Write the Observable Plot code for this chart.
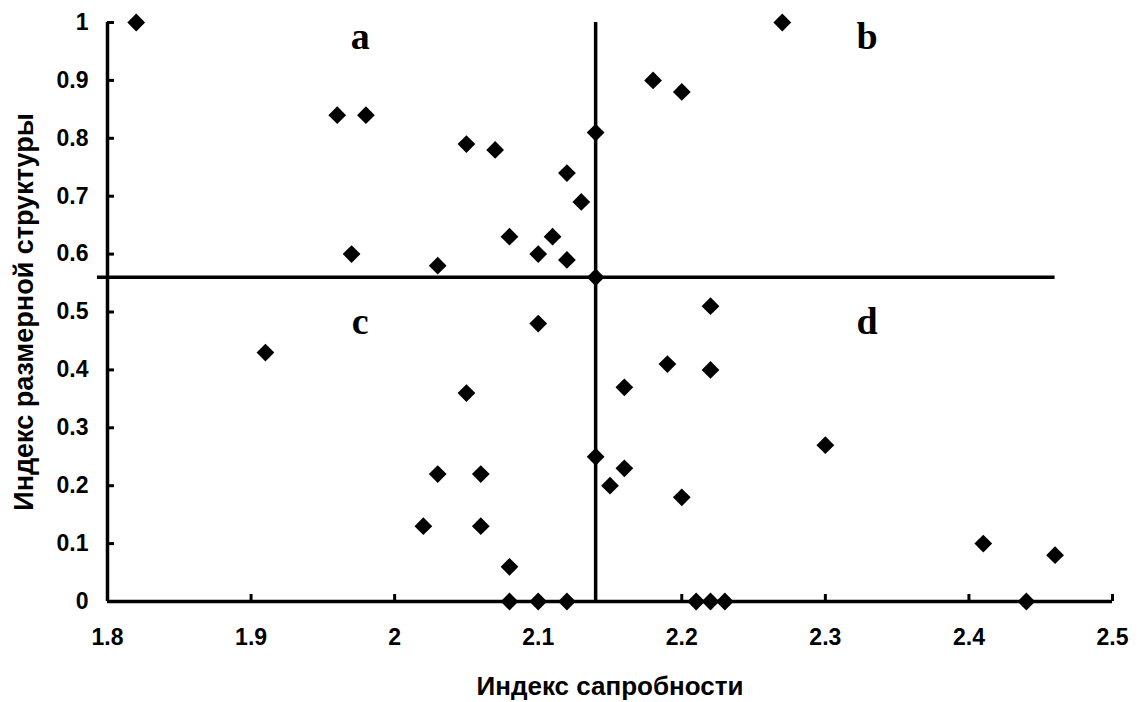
<!DOCTYPE html>
<html>
<head>
<meta charset="utf-8">
<script src="https://cdn.jsdelivr.net/npm/d3@7"></script>
<script src="https://cdn.jsdelivr.net/npm/@observablehq/plot@0.6"></script>
<style>
  html, body { margin: 0; padding: 0; background: #fff; }
  #chart { width: 1138px; height: 702px; }
  #chart svg g[aria-label$="tick label"] { font-size: 23px; }
</style>
</head>
<body>
<div id="chart"></div>
<script>
// Saprobity index (x) and size-structure index (y)
const saprobity = [
  1.82, 1.96, 1.98, 2.05, 2.07, 2.14, 2.12, 2.13, 2.08, 2.11,
  1.97, 2.10, 2.12, 2.03, 2.14, 2.27, 2.18, 2.20, 2.22, 1.91,
  2.10, 2.19, 2.22, 2.16, 2.05, 2.30, 2.14, 2.03, 2.06, 2.16,
  2.15, 2.20, 2.02, 2.06, 2.08, 2.41, 2.46, 2.08, 2.10, 2.12,
  2.21, 2.22, 2.23, 2.44
];
const sizeStructure = [
  1.00, 0.84, 0.84, 0.79, 0.78, 0.81, 0.74, 0.69, 0.63, 0.63,
  0.60, 0.60, 0.59, 0.58, 0.56, 1.00, 0.90, 0.88, 0.51, 0.43,
  0.48, 0.41, 0.40, 0.37, 0.36, 0.27, 0.25, 0.22, 0.22, 0.23,
  0.20, 0.18, 0.13, 0.13, 0.06, 0.10, 0.08, 0.00, 0.00, 0.00,
  0.00, 0.00, 0.00, 0.00
];

// Quadrant divider lines
const dividerX = [2.14];          // vertical line
const dividerXSpan = [0, 1];
const dividerY = [0.56];          // horizontal line
const dividerYSpan = [1.793, 2.46];

// Quadrant labels
const quadLabels = ["a", "b", "c", "d"];
const quadX = [1.976, 2.329, 1.976, 2.329];
const quadY = [0.955, 0.955, 0.462, 0.462];

const xTicks = [1.8, 1.9, 2.0, 2.1, 2.2, 2.3, 2.4, 2.5];
const yTicks = [0, 0.1, 0.2, 0.3, 0.4, 0.5, 0.6, 0.7, 0.8, 0.9, 1];
const xDomain = [1.8, 2.5];
const yDomain = [0, 1];
const xTitle = "Индекс сапробности";
const yTitle = "Индекс размерной структуры";

const points = saprobity.map((x, i) => ({x, y: sizeStructure[i]}));
const labels = quadLabels.map((t, i) => ({t, x: quadX[i], y: quadY[i]}));
const fmt = d => `${+d.toFixed(2)}`;

const chart = Plot.plot({
  width: 1138,
  height: 702,
  marginLeft: 107,
  marginRight: 26,
  marginTop: 22,
  marginBottom: 101,
  style: {fontFamily: "Arial, 'Liberation Sans', sans-serif", fontWeight: "bold", fontSize: "23px", color: "black", background: "white"},
  x: {domain: xDomain},
  y: {domain: yDomain},
  marks: [
    Plot.axisX(xTicks, {tickSize: -7, tickPadding: 34, strokeWidth: 3, tickFormat: fmt, label: null}),
    Plot.axisY(yTicks, {tickSize: -7, tickPadding: 26, strokeWidth: 3, tickFormat: fmt, label: null}),
    Plot.ruleX([xDomain[0]], {y1: yDomain[0], y2: yDomain[1], strokeWidth: 3.5}),
    Plot.ruleY([yDomain[0]], {x1: xDomain[0], x2: xDomain[1], strokeWidth: 3.5}),
    Plot.ruleX(dividerX, {y1: dividerXSpan[0], y2: dividerXSpan[1], strokeWidth: 3.5}),
    Plot.ruleY(dividerY, {x1: dividerYSpan[0], x2: dividerYSpan[1], strokeWidth: 3.5}),
    Plot.dot(points, {x: "x", y: "y", symbol: "diamond2", r: 8, fill: "black", stroke: null}),
    Plot.text(labels, {x: "x", y: "y", text: "t", fontSize: 38, fontFamily: "'Times New Roman', 'Liberation Serif', serif", fontWeight: "bold", lineAnchor: "bottom", textAnchor: "middle", fill: "black"}),
    Plot.text([xTitle], {frameAnchor: "bottom", dy: 93, lineAnchor: "bottom", textAnchor: "middle", fontSize: 26, fill: "black"}),
    Plot.text([yTitle], {frameAnchor: "left", rotate: -90, dx: -75, lineAnchor: "bottom", textAnchor: "middle", fontSize: 27, fill: "black"})
  ]
});
document.getElementById("chart").appendChild(chart);
</script>
</body>
</html>
